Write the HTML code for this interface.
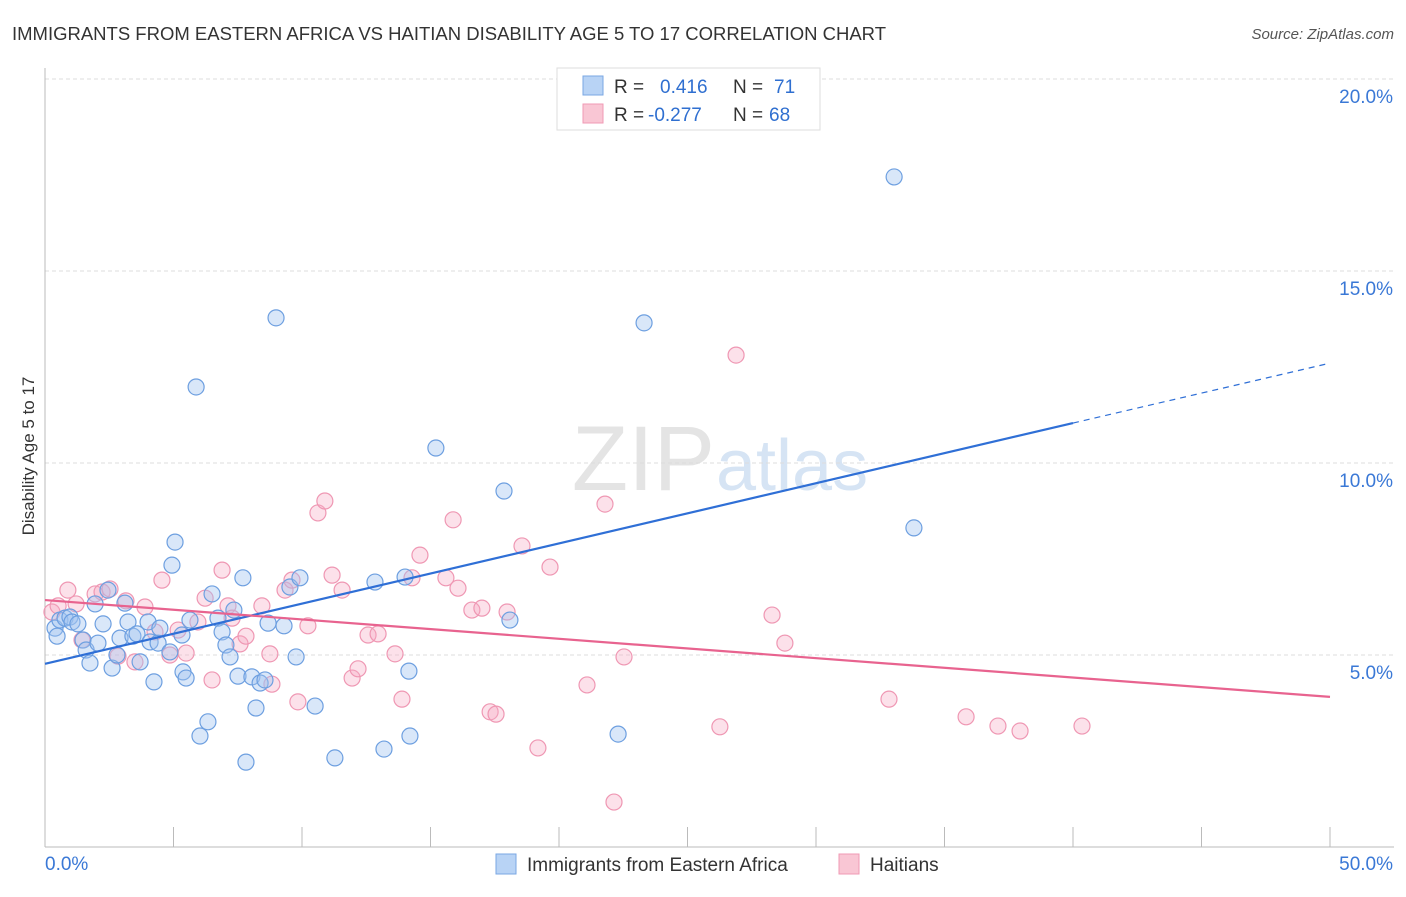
<!DOCTYPE html>
<html><head><meta charset="utf-8"><style>
body{margin:0;background:#fff;font-family:"Liberation Sans",sans-serif;}
svg text{font-family:"Liberation Sans",sans-serif;}
</style></head><body>
<svg id="chart" width="1406" height="892" viewBox="0 0 1406 892">
<text x="12" y="40" font-size="18" fill="#333" textLength="874" lengthAdjust="spacingAndGlyphs">IMMIGRANTS FROM EASTERN AFRICA VS HAITIAN DISABILITY AGE 5 TO 17 CORRELATION CHART</text>
<text x="1394" y="39" font-size="15" fill="#555" font-style="italic" text-anchor="end">Source: ZipAtlas.com</text>
<text x="715" y="490" font-size="92" fill="#e4e4e4" text-anchor="end" font-family="Liberation Serif">ZIP</text>
<text x="716" y="490" font-size="72" fill="#d6e4f4">atlas</text>
<text transform="translate(34,456) rotate(-90)" font-size="17" fill="#333" text-anchor="middle">Disability Age 5 to 17</text>
<g id="grid"></g><g id="ticks"></g><g id="marks"></g><g id="trends"></g>
<g>
<rect x="557" y="68" width="263" height="62" fill="#fff" stroke="#ddd"/>
<rect x="583" y="76" width="20" height="19" fill="#b8d3f5" stroke="#7aa7e3"/>
<rect x="583" y="104" width="20" height="19" fill="#f9c6d4" stroke="#f09ab4"/>
<text x="614" y="93" font-size="19" fill="#333">R = </text><text x="660" y="93" font-size="19" fill="#2f6fd0">0.416</text>
<text x="733" y="93" font-size="19" fill="#333">N = </text><text x="774" y="93" font-size="19" fill="#2f6fd0">71</text>
<text x="614" y="121" font-size="19" fill="#333">R = </text><text x="648" y="121" font-size="19" fill="#2f6fd0">-0.277</text>
<text x="733" y="121" font-size="19" fill="#333">N = </text><text x="769" y="121" font-size="19" fill="#2f6fd0">68</text>
</g>
<g>
<rect x="496" y="854" width="20" height="20" fill="#b8d3f5" stroke="#7aa7e3"/>
<text x="527" y="871" font-size="19" fill="#333">Immigrants from Eastern Africa</text>
<rect x="839" y="854" width="20" height="20" fill="#f9c6d4" stroke="#f09ab4"/>
<text x="870" y="871" font-size="19" fill="#333">Haitians</text>
</g>
</svg>
<script>
const blueX=[0.39,0.47,0.58,0.78,0.97,1.05,1.28,1.48,1.60,1.75,1.95,2.06,2.26,2.45,2.61,2.80,2.92,3.11,3.23,3.42,3.58,3.70,4.01,4.09,4.24,4.40,4.47,4.86,4.94,5.06,5.33,5.37,5.49,5.64,5.88,6.03,6.34,6.50,6.73,6.89,7.04,7.20,7.35,7.51,7.70,7.82,8.05,8.21,8.37,8.56,8.68,8.99,9.30,9.53,9.77,9.92,10.51,11.28,12.84,13.19,14.01,14.20,14.16,15.21,17.86,18.09,22.30,23.31,33.04,33.81];
const blueY=[5.70,5.49,5.91,5.96,5.99,5.86,5.81,5.39,5.13,4.79,6.33,5.31,5.81,6.69,4.66,5.00,5.44,6.35,5.86,5.49,5.55,4.82,5.86,5.34,4.30,5.31,5.70,5.08,7.34,7.94,5.52,4.56,4.40,5.91,11.98,2.89,3.26,6.59,5.96,5.60,5.26,4.95,6.17,4.45,7.01,2.21,4.43,3.62,4.27,4.35,5.83,13.78,5.76,6.77,4.95,7.01,3.67,2.32,6.90,2.55,7.03,2.89,4.58,10.39,9.27,5.91,2.94,13.65,17.45,8.31];
const pinkX=[0.27,0.51,0.89,1.21,1.44,1.95,2.22,2.53,2.84,3.15,3.50,3.89,4.28,4.55,4.86,5.18,5.49,5.95,6.23,6.50,6.89,7.12,7.28,7.59,7.82,8.44,8.75,8.83,9.34,9.61,9.84,10.23,10.62,10.89,11.17,11.56,11.95,12.18,12.57,12.96,13.62,13.89,14.28,14.59,15.60,15.88,16.07,16.61,17.00,17.32,17.55,17.98,18.56,19.18,19.65,21.09,21.79,22.14,22.53,26.26,26.89,28.29,28.79,32.84,35.84,37.08,37.94,40.35];
const pinkY=[6.12,6.28,6.69,6.33,5.39,6.59,6.64,6.72,4.97,6.41,4.82,6.25,5.60,6.95,5.00,5.65,5.05,5.86,6.48,4.35,7.21,6.28,5.96,5.29,5.49,6.28,5.03,4.24,6.69,6.95,3.78,5.76,8.70,9.01,7.08,6.69,4.40,4.64,5.52,5.55,5.03,3.85,7.01,7.60,7.01,8.52,6.74,6.17,6.22,3.52,3.46,6.12,7.84,2.58,7.29,4.22,8.93,1.17,4.95,3.13,12.81,6.04,5.31,3.85,3.39,3.15,3.02,3.15];
const blueTrend=[4.77,11.04,12.6];
const pinkTrend=[6.43,3.91];
const yTicks=[5,10,15,20];
const yTickLabels=["5.0%","10.0%","15.0%","20.0%"];
const xTicks=[0,5,10,15,20,25,30,35,40,45,50];

const NS="http://www.w3.org/2000/svg";
const sx=v=>45+v*25.7;
const sy=v=>847-v*38.4;
function mk(tag,attrs,parent){const e=document.createElementNS(NS,tag);for(const k in attrs)e.setAttribute(k,attrs[k]);document.getElementById(parent).appendChild(e);return e;}

yTicks.forEach((t,i)=>{
  const g=mk('line',{x1:45,x2:1394,y1:sy(t),y2:sy(t),stroke:'#ddd','stroke-dasharray':'4,3'},'grid');
  
  
  const l=mk('text',{x:1393,y:sy(t)+24,'font-size':19,fill:'#3a78d6','text-anchor':'end'},'ticks');
  l.textContent=yTickLabels[i];
  
  
});
const ax=mk('line',{x1:45,x2:45,y1:68,y2:847,stroke:'#bbb'},'grid');


const bx=mk('line',{x1:45,x2:1394,y1:847,y2:847,stroke:'#bbb'},'grid');


xTicks.forEach(t=>{
  const tk=mk('line',{x1:sx(t),x2:sx(t),y1:827,y2:847,stroke:'#bbb'},'ticks');
  
  
});
const xl0=mk('text',{x:45,y:870,'font-size':19,fill:'#3a78d6'},'ticks');xl0.textContent='0.0%';


const xl1=mk('text',{x:1393,y:870,'font-size':19,fill:'#3a78d6','text-anchor':'end'},'ticks');xl1.textContent='50.0%';



pinkX.forEach((x,i)=>{
  const c=mk('circle',{cx:sx(x),cy:sy(pinkY[i]),r:8,fill:'rgba(246,170,195,0.35)',stroke:'#ef97b3','stroke-width':1.2},'marks');
  
  
});
blueX.forEach((x,i)=>{
  const c=mk('circle',{cx:sx(x),cy:sy(blueY[i]),r:8,fill:'rgba(160,196,240,0.4)',stroke:'#6d9fe0','stroke-width':1.2},'marks');
  
  
});
const bl=mk('line',{x1:sx(0),y1:sy(blueTrend[0]),x2:sx(40),y2:sy(blueTrend[1]),stroke:'#2f6fd6','stroke-width':2.2},'trends');


const bd=mk('line',{x1:sx(40),y1:sy(blueTrend[1]),x2:sx(50),y2:sy(blueTrend[2]),stroke:'#2f6fd6','stroke-width':1.2,'stroke-dasharray':'6,5'},'trends');


const pl=mk('line',{x1:sx(0),y1:sy(pinkTrend[0]),x2:sx(50),y2:sy(pinkTrend[1]),stroke:'#e8638f','stroke-width':2.2},'trends');


</script>
</body></html>
